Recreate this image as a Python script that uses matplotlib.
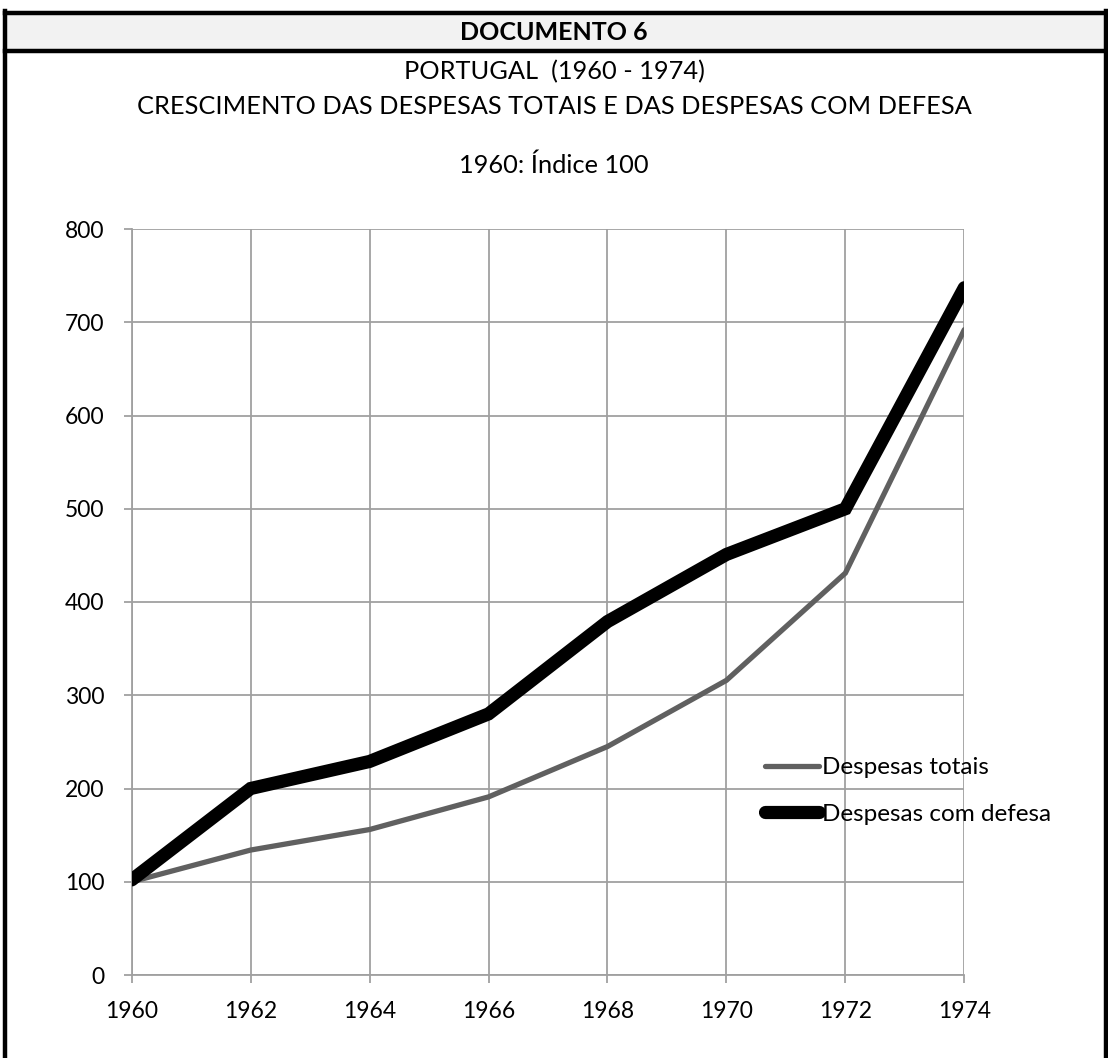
import matplotlib.pyplot as plt
from matplotlib.patches import Rectangle
from matplotlib.lines import Line2D

plt.rcParams['font.family'] = ['Lato', 'DejaVu Sans']

anos = [1960, 1962, 1964, 1966, 1968, 1970, 1972, 1974]
despesas_totais = [100, 134, 156, 191, 245, 316, 431, 692]
despesas_defesa = [102, 200, 229, 280, 379, 451, 500, 737]
y_ticks = [0, 100, 200, 300, 400, 500, 600, 700, 800]

W, H = 1108, 1058
fig = plt.figure(figsize=(W / 100, H / 100), dpi=100)

def fx(px):
    return px / W

def fy(py):
    return 1 - py / H

# header band and frame
fig.add_artist(Rectangle((fx(5), fy(51)), fx(1108) - fx(5), fy(13) - fy(51),
                         transform=fig.transFigure, facecolor='#f2f2f2', edgecolor='none'))
for xs, ys in [([5, 1108], [12.5, 12.5]), ([5, 1108], [51, 51]), ([5, 5], [11, 1058]), ([1106, 1106], [11, 1058])]:
    fig.add_artist(Line2D([fx(x) for x in xs], [fy(y) for y in ys],
                          transform=fig.transFigure, color='black', linewidth=3.2))

fig.text(0.5, fy(33), 'DOCUMENTO 6', ha='center', va='center', fontsize=18, fontweight='bold')
fig.text(0.5, fy(72), 'PORTUGAL  (1960 - 1974)', ha='center', va='center', fontsize=18.3)
fig.text(0.5, fy(106), 'CRESCIMENTO DAS DESPESAS TOTAIS E DAS DESPESAS COM DEFESA', ha='center', va='center', fontsize=18.3)
fig.text(0.5, fy(165), '1960: Índice 100', ha='center', va='center', fontsize=18.3)

x0, x1 = 131.7, 964.3
ax = fig.add_axes([fx(x0), fy(975), fx(x1) - fx(x0), fy(229) - fy(975)])
ax.plot(anos, despesas_totais, color='#606060', linewidth=3.8, label='Despesas totais',
        solid_capstyle='round', solid_joinstyle='miter', zorder=3)
ax.plot(anos, despesas_defesa, color='black', linewidth=9.5, label='Despesas com defesa',
        solid_capstyle='round', solid_joinstyle='miter', zorder=4)

ax.set_xlim(1960, 1974)
ax.set_ylim(0, 800)
ax.set_xticks(anos)
ax.set_yticks(y_ticks)
ax.grid(True, color='#a0a0a0', linewidth=1.3)
ax.set_axisbelow(True)
for side in ['top', 'right']:
    ax.spines[side].set_visible(False)
for side in ['left', 'bottom']:
    ax.spines[side].set_color('#a0a0a0')
    ax.spines[side].set_linewidth(1.3)
ax.tick_params(colors='#a0a0a0', labelcolor='black', labelsize=16.5, length=6, width=1.3)
ax.tick_params(axis='y', pad=13.5)
ax.tick_params(axis='x', pad=13)

ax.legend(loc='center left', bbox_to_anchor=((753 - x0) / (x1 - x0), (975 - 791) / 746),
          frameon=False, fontsize=17.5, handlelength=2.2, handletextpad=0.15, labelspacing=1.05, borderpad=0)

fig.savefig('out.png', dpi=100, facecolor='white')
